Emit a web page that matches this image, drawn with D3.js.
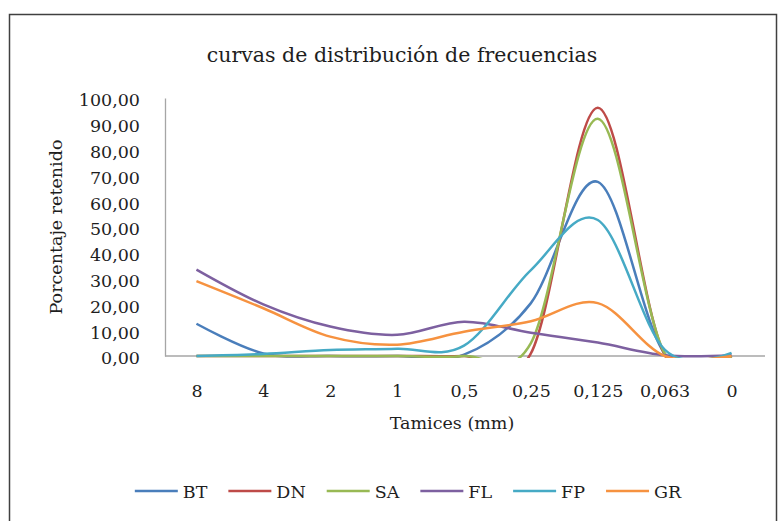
<!DOCTYPE html>
<html>
  <head>
    <meta charset="utf-8">
    <script src="https://cdn.jsdelivr.net/npm/d3@7"></script>
    <style>
      body { margin: 0; background: #fff; }
      text { font-family: "DejaVu Serif", serif; fill: #1e1e1e; }
    </style>
  </head>
  <body>
    <script type="text/javascript">
      // Tamices (mm) - category labels on the x axis
      var tamices = ["8", "4", "2", "1", "0,5", "0,25", "0,125", "0,063", "0"];
      // porcentaje retenido for each sample
      var BT = [12.5, 1, 0, 0, 0.5, 20.5, 67.5, 1, 0];
      var DN = [0, 0, 0, 0, 0, 1, 96.2, 0.5, 0];
      var SA = [0, 0, 0, 0, 0, 5, 92, 1, 0];
      var FL = [33.5, 20, 11.4, 8.2, 13.3, 9, 5.2, 0.3, 0.3];
      var FP = [0, 0.8, 2.3, 2.8, 4, 33.3, 52.7, 2.5, 1.2];
      var GR = [29, 18.5, 7.5, 4.4, 9.4, 13.5, 20.5, 0, 0];
      var yTicks = [0, 10, 20, 30, 40, 50, 60, 70, 80, 90, 100];

      var series = [
        {name: "BT", values: BT, color: "#4a7ebb"},
        {name: "DN", values: DN, color: "#be4b48"},
        {name: "SA", values: SA, color: "#98b954"},
        {name: "FL", values: FL, color: "#7d60a0"},
        {name: "FP", values: FP, color: "#46aac5"},
        {name: "GR", values: GR, color: "#f69240"}
      ];

      var width = 782, height = 521;
      var svg = d3.select("body").append("svg")
          .attr("width", width)
          .attr("height", height);

      // chart frame
      svg.append("rect")
          .attr("x", 9.5).attr("y", 14.5)
          .attr("width", 767).attr("height", 530)
          .attr("fill", "none")
          .attr("stroke", "#404040")
          .attr("stroke-width", 1.5);

      var x = d3.scalePoint().domain(tamices).range([163, 765]).padding(0.5);
      var y = d3.scaleLinear().domain([0, 100]).range([356, 98]);

      var comma = d3.formatLocale({decimal: ",", thousands: ".", grouping: [3], currency: ["", ""]});
      var fmt = comma.format(".2f");

      // title
      svg.append("text")
          .attr("x", 402).attr("y", 62)
          .attr("text-anchor", "middle")
          .style("font-size", "20.5px")
          .text("curvas de distribución de frecuencias");

      // y axis
      var yAxis = svg.append("g")
          .attr("transform", "translate(165,0)")
          .call(d3.axisLeft(y).tickValues(yTicks).tickFormat(fmt).tickSize(0).tickPadding(25));
      yAxis.select(".domain").attr("stroke", "#a6a6a6").attr("stroke-width", 1.3);
      yAxis.selectAll("text")
          .style("font-size", "17.5px")
          .style("font-family", "DejaVu Serif")
          .attr("fill", "#1e1e1e")
          .attr("dy", "0.45em");

      // x axis
      var xAxis = svg.append("g")
          .attr("transform", "translate(0,356)")
          .call(d3.axisBottom(x).tickSize(0).tickPadding(0));
      xAxis.select(".domain").attr("stroke", "#a6a6a6").attr("stroke-width", 1.3)
          .attr("d", "M165,0H765");
      xAxis.selectAll("text")
          .style("font-size", "17.5px")
          .style("font-family", "DejaVu Serif")
          .attr("fill", "#1e1e1e")
          .attr("dy", null)
          .attr("y", 41);

      // axis titles
      svg.append("text")
          .attr("x", 452).attr("y", 429)
          .attr("text-anchor", "middle")
          .style("font-size", "17.5px")
          .text("Tamices (mm)");
      svg.append("text")
          .attr("transform", "translate(62,227) rotate(-90)")
          .attr("text-anchor", "middle")
          .style("font-size", "17.5px")
          .text("Porcentaje retenido");

      // clip the smoothed lines at the plot area (Excel does the same)
      svg.append("clipPath").attr("id", "plot")
        .append("rect")
          .attr("x", 165).attr("y", 90)
          .attr("width", 600).attr("height", 358 - 90);

      var line = d3.line()
          .x(function (d, i) { return x(tamices[i]); })
          .y(function (d) { return y(d); })
          .curve(d3.curveCatmullRom.alpha(0));

      svg.append("g").attr("clip-path", "url(#plot)")
        .selectAll("path")
        .data(series)
        .enter()
        .append("path")
          .attr("d", function (s) { return line(s.values); })
          .attr("fill", "none")
          .attr("stroke", function (s) { return s.color; })
          .attr("stroke-width", 2.5)
          .attr("stroke-linejoin", "round");

      // legend
      var legend = svg.append("g");
      var lx = 0;
      series.forEach(function (s) {
        var g = legend.append("g").attr("transform", "translate(" + lx + ",0)");
        g.append("line")
            .attr("x1", 0).attr("x2", 43)
            .attr("y1", 0).attr("y2", 0)
            .attr("stroke", s.color)
            .attr("stroke-width", 2.5);
        var t = g.append("text")
            .attr("x", 48).attr("y", 7)
            .style("font-size", "17.5px")
            .text(s.name);
        lx += 48 + t.node().getComputedTextLength() + 21;
      });
      var lw = lx - 21;
      legend.attr("transform", "translate(" + (408 - lw / 2) + ",491)");
    </script>
  </body>
</html>
